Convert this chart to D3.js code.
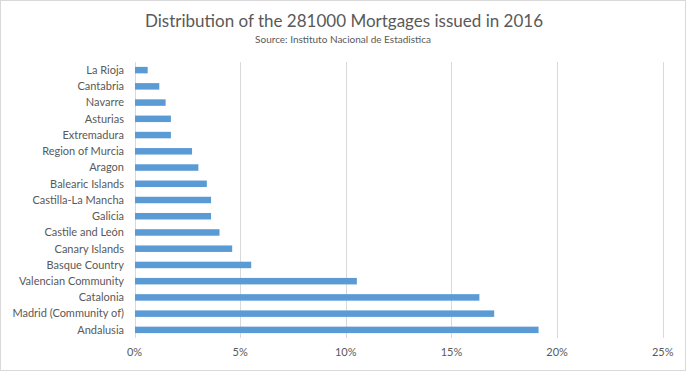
<!DOCTYPE html>
<html>
<head>
<meta charset="utf-8">
<title>mortgages</title>
<script src="https://d3js.org/d3.v7.min.js"></script>
<style>
  body { margin: 0; background: #fff; }
  text { font-family: Lato, "Open Sans", sans-serif; fill: #595959; }
</style>
</head>
<body>
<div id="chart"></div>
<script>

// regions, top to bottom as drawn
var regions = ["La Rioja", "Cantabria", "Navarre", "Asturias", "Extremadura",
  "Region of Murcia", "Aragon", "Balearic Islands", "Castilla-La Mancha", "Galicia",
  "Castile and León", "Canary Islands", "Basque Country", "Valencian Community",
  "Catalonia", "Madrid (Community of)", "Andalusia"];

// share of mortgages (%)
var shares = [0.6, 1.15, 1.45, 1.7, 1.7,
  2.7, 3.0, 3.4, 3.6, 3.6,
  4.0, 4.6, 5.5, 10.5,
  16.3, 17.0, 19.1];

var xTicks = [0, 5, 10, 15, 20, 25];

var width = 688, height = 391;
var margin = {top: 62, left: 134.5, right: 25.5, bottom: 53};

var svg = d3.select("#chart").append("svg")
  .attr("width", width)
  .attr("height", height);

// outer chart border
svg.append("rect")
  .attr("x", 0.5).attr("y", 0.5)
  .attr("width", 685).attr("height", 370)
  .attr("fill", "white")
  .attr("stroke", "#d9d9d9");

svg.append("text")
  .attr("x", 344).attr("y", 27)
  .attr("text-anchor", "middle")
  .style("font-size", "17px")
  .text("Distribution of the 281000 Mortgages issued in 2016");

svg.append("text")
  .attr("x", 343).attr("y", 43)
  .attr("text-anchor", "middle")
  .style("font-size", "10px")
  .text("Source: Instituto Nacional de Estadistica");

var x = d3.scaleLinear()
  .domain([0, 25])
  .range([margin.left, 662.7]);

var y = d3.scaleBand()
  .domain(regions)
  .range([margin.top, 338])
  .paddingInner(0.6)
  .paddingOuter(0.3);

// gridlines
svg.append("g")
  .selectAll("line")
  .data(xTicks)
  .join("line")
  .attr("x1", function(d) { return Math.round(x(d)) + 0.5; })
  .attr("x2", function(d) { return Math.round(x(d)) + 0.5; })
  .attr("y1", margin.top)
  .attr("y2", 338)
  .attr("stroke", "#d9d9d9");

// bars
svg.append("g")
  .selectAll("rect")
  .data(regions)
  .join("rect")
  .attr("x", x(0) + 0.5)
  .attr("y", function(d) { return y(d); })
  .attr("width", function(d, i) { return x(shares[i]) - x(0); })
  .attr("height", y.bandwidth())
  .attr("fill", "#5b9bd5");

// category labels
svg.append("g")
  .selectAll("text")
  .data(regions)
  .join("text")
  .attr("x", 124)
  .attr("y", function(d) { return y(d) + y.bandwidth() / 2; })
  .attr("dy", "0.35em")
  .attr("text-anchor", "end")
  .style("font-size", "11px")
  .text(function(d) { return d; });

// x tick labels
svg.append("g")
  .selectAll("text")
  .data(xTicks)
  .join("text")
  .attr("x", function(d) { return x(d); })
  .attr("y", 352)
  .attr("dy", "0.35em")
  .attr("text-anchor", "middle")
  .style("font-size", "11px")
  .text(function(d) { return d + "%"; });

</script>
</body>
</html>
